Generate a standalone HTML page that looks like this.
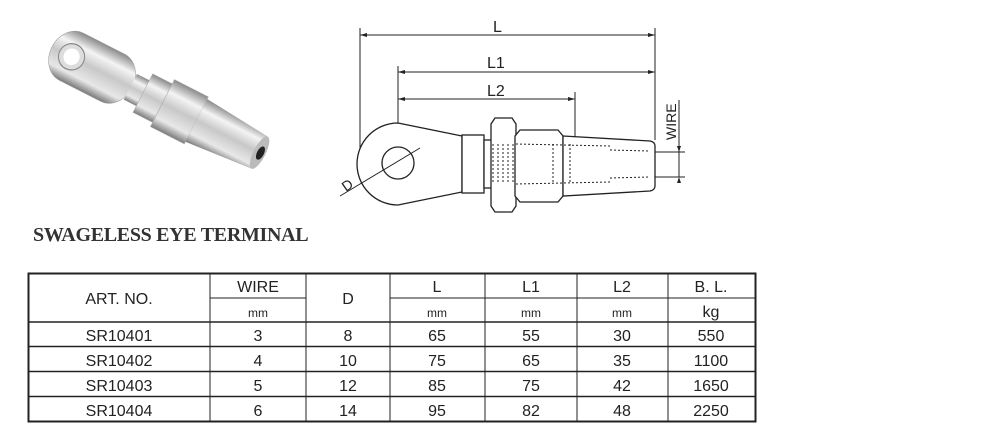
<!DOCTYPE html>
<html><head><meta charset="utf-8"><style>
body{margin:0;background:#fff;width:1000px;height:434px;overflow:hidden;position:relative;font-family:"Liberation Sans",sans-serif}
.title{position:absolute;left:33px;top:224px;font-family:"Liberation Serif",serif;font-weight:bold;font-size:20px;color:#333;letter-spacing:-0.3px}
</style></head><body>
<svg width="1000" height="434" style="position:absolute;left:0;top:0">
<defs>
<linearGradient id="met" x1="0" y1="0" x2="0" y2="1">
<stop offset="0" stop-color="#8a8a8a"/><stop offset="0.25" stop-color="#f4f4f4"/><stop offset="0.5" stop-color="#c8c8c8"/><stop offset="0.8" stop-color="#e8e8e8"/><stop offset="1" stop-color="#7a7a7a"/>
</linearGradient>
</defs>
<!-- photo -->
<g transform="translate(68,55) rotate(27) scale(1,1.2)">
<rect x="-18" y="-22" width="90" height="44" rx="22" fill="url(#met)" stroke="#999" stroke-width="0.5"/>
<ellipse cx="4" cy="0" rx="13" ry="11" fill="#ddd" stroke="#888"/>
<ellipse cx="4" cy="0" rx="8" ry="7" fill="#fff"/>
<rect x="70" y="-12" width="14" height="24" fill="url(#met)"/>
<rect x="84" y="-18" width="22" height="36" fill="url(#met)" stroke="#aaa" stroke-width="0.5"/>
<rect x="106" y="-22" width="38" height="44" fill="url(#met)" stroke="#aaa" stroke-width="0.5"/>
<path d="M144 -20 L215 -15 L215 15 L144 20 Z" fill="url(#met)"/>
<ellipse cx="215" cy="0" rx="6" ry="15" fill="#bbb"/>
<ellipse cx="216" cy="0" rx="3.5" ry="6" fill="#222"/>
</g>
<!-- drawing -->
<g stroke="#222" fill="none" stroke-width="1">
<line x1="360" y1="28" x2="360" y2="158"/>
<line x1="655" y1="28" x2="655" y2="140"/>
<line x1="398" y1="66" x2="398" y2="163"/>
<line x1="575" y1="92" x2="575" y2="140"/>
<line x1="360" y1="35" x2="655" y2="35"/>
<line x1="398" y1="72" x2="655" y2="72"/>
<line x1="398" y1="99" x2="575" y2="99"/>
<line x1="655" y1="152" x2="685" y2="152"/>
<line x1="655" y1="177" x2="685" y2="177"/>
<line x1="679" y1="100" x2="679" y2="177"/>
</g>
<g fill="#222">
<path d="M360 35 l7 -2 v4z M655 35 l-7 -2 v4z M398 72 l7 -2 v4z M655 72 l-7 -2 v4z M398 99 l7 -2 v4z M575 99 l-7 -2 v4z M679 152 l-2 -6 h4z M679 177 l-2 6 h4z"/>
</g>
<g stroke="#222" fill="#fff" stroke-width="1.3">
<path d="M398 123 L462 136 L462 192 L398 205 A41 41 0 0 1 398 123 Z"/>
<circle cx="398" cy="163" r="16"/>
<rect x="462" y="135" width="22" height="58"/>
<rect x="484" y="140" width="8" height="48"/>
<path d="M495 118 h17 l4 6 v82 l-4 6 h-17 l-4 -6 v-82z"/>
<path d="M520 130 h38 l5 6 v60 l-5 6 h-38 l-5 -6 v-60z"/>
<path d="M563 136 L650 141 Q655 142 655 146 L655 186 Q655 190 650 191 L563 196 Z"/>
</g>
<g stroke="#222" stroke-width="1" stroke-dasharray="2,2" fill="none">
<line x1="493" y1="144" x2="493" y2="184"/><line x1="498" y1="144" x2="498" y2="184"/><line x1="503" y1="144" x2="503" y2="184"/><line x1="508" y1="144" x2="508" y2="184"/><line x1="513" y1="144" x2="513" y2="184"/>
<line x1="516" y1="144" x2="610" y2="146"/><line x1="516" y1="184" x2="610" y2="182"/>
<line x1="610" y1="150" x2="650" y2="151"/><line x1="610" y1="178" x2="650" y2="177"/>
<line x1="553" y1="144" x2="553" y2="184"/><line x1="570" y1="144" x2="570" y2="184"/>
</g>
<line x1="340" y1="196" x2="420" y2="148" stroke="#222" stroke-width="1"/>
<g font-family="Liberation Sans, sans-serif" font-size="16" fill="#222">
<text x="493" y="32">L</text>
<text x="487" y="68">L1</text>
<text x="487" y="96">L2</text>
<text transform="translate(676,140) rotate(-90)" font-size="14">WIRE</text>
<text transform="translate(346,192) rotate(-35)" font-size="14">D</text>
</g>
<!-- table -->
<g stroke="#222" fill="none">
<rect x="28.5" y="273.5" width="727" height="148" stroke-width="2"/>
<line x1="210" y1="298" x2="306" y2="298"/><line x1="390" y1="298" x2="755" y2="298"/>
<line x1="28" y1="322" x2="755" y2="322" stroke-width="1.5"/>
<line x1="28" y1="346.5" x2="755" y2="346.5" stroke-width="1.5"/>
<line x1="28" y1="371.5" x2="755" y2="371.5" stroke-width="1.5"/>
<line x1="28" y1="396.5" x2="755" y2="396.5" stroke-width="1.5"/>
<line x1="210" y1="273" x2="210" y2="421"/><line x1="306" y1="273" x2="306" y2="421"/>
<line x1="390" y1="273" x2="390" y2="421"/><line x1="485" y1="273" x2="485" y2="421"/>
<line x1="577" y1="273" x2="577" y2="421"/><line x1="668" y1="273" x2="668" y2="421"/>
</g>
<g font-family="Liberation Sans, sans-serif" font-size="16" fill="#222" text-anchor="middle">
<text x="119" y="304">ART. NO.</text>
<text x="258" y="292">WIRE</text><text x="348" y="304">D</text>
<text x="437" y="292">L</text><text x="531" y="292">L1</text><text x="622" y="292">L2</text><text x="711" y="292">B. L.</text>
<g font-size="12"><text x="258" y="317">mm</text><text x="437" y="317">mm</text><text x="531" y="317">mm</text><text x="622" y="317">mm</text></g>
<text x="711" y="317">kg</text>
<text x="119" y="341">SR10401</text><text x="258" y="341">3</text><text x="348" y="341">8</text><text x="437" y="341">65</text><text x="531" y="341">55</text><text x="622" y="341">30</text><text x="711" y="341">550</text>
<text x="119" y="366">SR10402</text><text x="258" y="366">4</text><text x="348" y="366">10</text><text x="437" y="366">75</text><text x="531" y="366">65</text><text x="622" y="366">35</text><text x="711" y="366">1100</text>
<text x="119" y="391">SR10403</text><text x="258" y="391">5</text><text x="348" y="391">12</text><text x="437" y="391">85</text><text x="531" y="391">75</text><text x="622" y="391">42</text><text x="711" y="391">1650</text>
<text x="119" y="416">SR10404</text><text x="258" y="416">6</text><text x="348" y="416">14</text><text x="437" y="416">95</text><text x="531" y="416">82</text><text x="622" y="416">48</text><text x="711" y="416">2250</text>
</g>
</svg>
<div class="title">SWAGELESS EYE TERMINAL</div>
</body></html>
